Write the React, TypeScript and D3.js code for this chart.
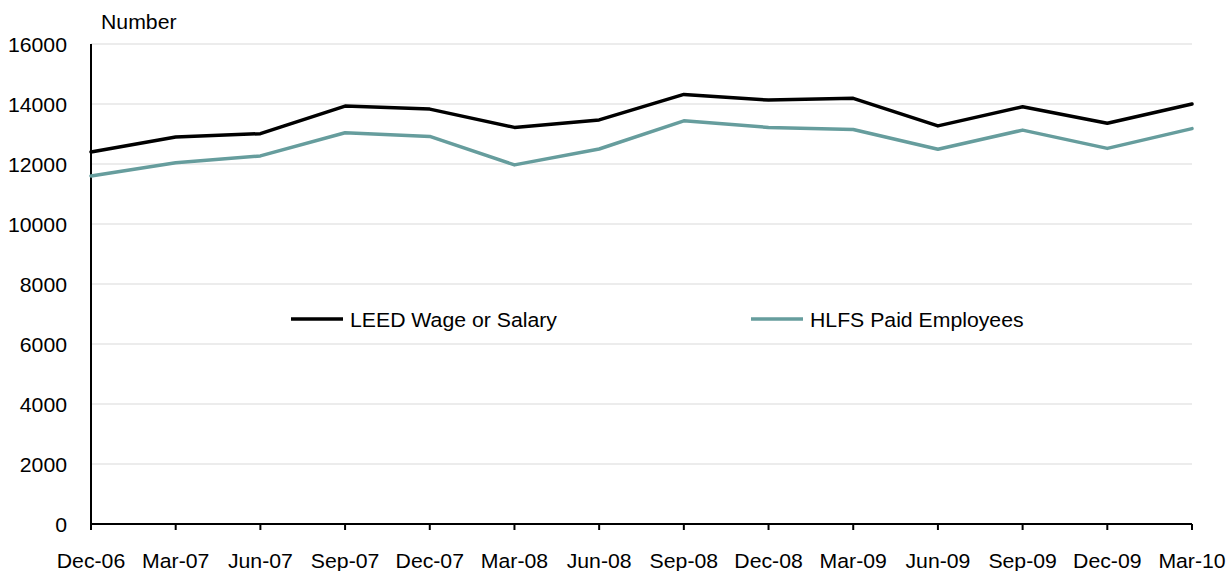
import React, { useEffect, useRef } from "react";
import * as d3 from "d3";

const quarters = ["Dec-06", "Mar-07", "Jun-07", "Sep-07", "Dec-07", "Mar-08", "Jun-08", "Sep-08", "Dec-08", "Mar-09", "Jun-09", "Sep-09", "Dec-09", "Mar-10"];
const leedWage = [12400, 12900, 13010, 13930, 13830, 13220, 13470, 14320, 14130, 14190, 13270, 13910, 13360, 14000];
const hlfsPaid = [11600, 12040, 12270, 13040, 12920, 11970, 12500, 13440, 13220, 13150, 12490, 13130, 12520, 13180];
const yTicks = [0, 2000, 4000, 6000, 8000, 10000, 12000, 14000, 16000];

const series = [
  { name: "LEED Wage or Salary", values: leedWage, color: "#000000" },
  { name: "HLFS Paid Employees", values: hlfsPaid, color: "#669d9d" },
];

export default function App() {
  const ref = useRef<SVGSVGElement>(null);

  useEffect(() => {
    const svg = d3.select(ref.current);
    svg.selectAll("*").remove();
    const font = "Liberation Sans, Arial, sans-serif";
    const stretch = 1.09;

    const left = 91, right = 1192, top = 44, bottom = 524;

    const x = d3.scalePoint<string>().domain(quarters).range([left, right]);
    const y = d3.scaleLinear().domain([0, 16000]).range([bottom, top]);

    // text with the slightly wide look of the original
    const label = (g: any, tx: number, ty: number, txt: string, anchor = "start", dy = "0") =>
      g.append("text")
        .attr("transform", `translate(${tx},${ty}) scale(${stretch},1)`)
        .attr("text-anchor", anchor)
        .attr("dy", dy)
        .attr("font-family", font)
        .attr("font-size", 19.5)
        .attr("fill", "#000")
        .text(txt);

    // gridlines
    svg.append("g")
      .selectAll("line")
      .data(yTicks.filter(d => d > 0))
      .enter()
      .append("line")
      .attr("x1", left)
      .attr("x2", right)
      .attr("y1", d => y(d))
      .attr("y2", d => y(d))
      .attr("stroke", "#d9d9d9")
      .attr("stroke-width", 1);

    const yg = svg.append("g");
    yTicks.forEach(d => label(yg, 67, y(d) + 1.5, String(d), "end", "0.35em"));

    label(svg, 101, 29, "Number");

    // axes lines
    svg.append("line")
      .attr("x1", left).attr("x2", left)
      .attr("y1", top).attr("y2", bottom)
      .attr("stroke", "#000").attr("stroke-width", 2);

    svg.append("line")
      .attr("x1", left).attr("x2", right)
      .attr("y1", bottom).attr("y2", bottom)
      .attr("stroke", "#000").attr("stroke-width", 2);

    svg.append("g")
      .selectAll("line")
      .data(quarters)
      .enter()
      .append("line")
      .attr("x1", d => x(d)!)
      .attr("x2", d => x(d)!)
      .attr("y1", bottom)
      .attr("y2", bottom + 6)
      .attr("stroke", "#000")
      .attr("stroke-width", 2);

    const xg = svg.append("g");
    quarters.forEach(d => label(xg, x(d)!, 568, d, "middle"));

    const line = d3.line<number>()
      .x((d, i) => x(quarters[i])!)
      .y(d => y(d));

    series.forEach(s => {
      svg.append("path")
        .datum(s.values)
        .attr("d", line)
        .attr("fill", "none")
        .attr("stroke", s.color)
        .attr("stroke-width", 3.5)
        .attr("stroke-linejoin", "round")
        .attr("stroke-linecap", "round");
    });

    // legend
    const legendX = [291, 751];
    series.forEach((s, i) => {
      const lx = legendX[i];
      svg.append("line")
        .attr("x1", lx).attr("x2", lx + 52)
        .attr("y1", 319).attr("y2", 319)
        .attr("stroke", s.color)
        .attr("stroke-width", 3.5);
      label(svg, lx + 59, 327, s.name);
    });
  }, []);

  return (
    <svg
      ref={ref}
      width={1229}
      height={571}
      style={{ position: "absolute", left: 0, top: 0, background: "#fff" }}
    />
  );
}
